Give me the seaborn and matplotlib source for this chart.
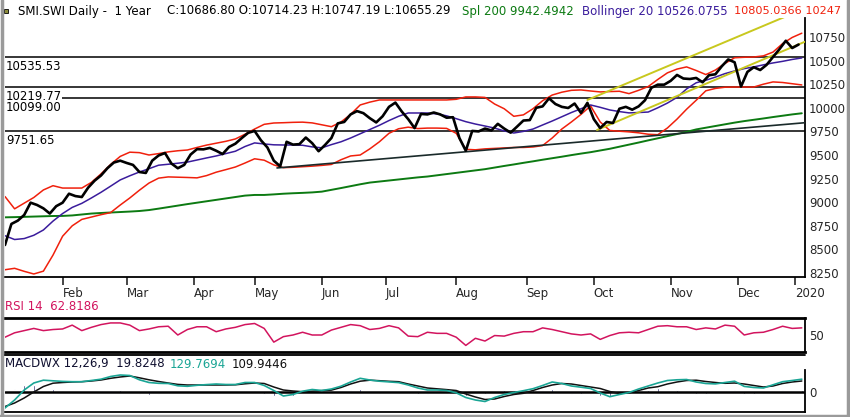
import numpy as np
import matplotlib
matplotlib.use("Agg")
import matplotlib.pyplot as plt
from matplotlib.lines import Line2D
from matplotlib.patches import Rectangle
import seaborn as sns

# DATA (x = trading day index, 0 = 8 Jan 2019)
price = [8547, 8770, 8805, 8865, 8995, 8971, 8935, 8880, 8958, 8995,
         9090, 9065, 9055, 9155, 9228, 9283, 9360, 9420, 9440, 9416,
         9395, 9320, 9310, 9440, 9495, 9521, 9410, 9360, 9395, 9505,
         9562, 9560, 9575, 9545, 9510, 9585, 9620, 9680, 9735, 9755,
         9655, 9580, 9440, 9380, 9640, 9610, 9615, 9685, 9625, 9540,
         9606, 9680, 9835, 9850, 9930, 9965, 9943, 9890, 9845, 9910,
         10010, 10055, 9960, 9880, 9785, 9935, 9930, 9950, 9930, 9895,
         9900, 9680, 9545, 9755, 9750, 9780, 9760, 9830, 9780, 9737,
         9800, 9865, 9870, 10000, 10015, 10100, 10040, 10010, 9998, 10045,
         9945, 10052, 9880, 9785, 9850, 9839, 9990, 10010, 9980, 10015,
         10080, 10212, 10245, 10245, 10285, 10348, 10310, 10305, 10316, 10270,
         10345, 10355, 10440, 10512, 10482, 10225, 10380, 10430, 10400, 10455,
         10538, 10620, 10710, 10633, 10670]

boll_upper = [9060, 8930, 8990, 9050, 9130, 9175, 9150, 9150, 9150, 9210,
              9300, 9400, 9485, 9530, 9525, 9500, 9515, 9533, 9545, 9553,
              9580, 9605, 9625, 9645, 9670, 9720, 9775, 9825, 9839, 9842,
              9846, 9848, 9840, 9820, 9800, 9850, 9930, 10030, 10060, 10083,
              10083, 10083, 10083, 10083, 10083, 10083, 10083, 10090, 10115, 10115,
              10110, 10040, 9990, 9910, 9925, 9990, 10075, 10135, 10165, 10185,
              10189, 10178, 10168, 10172, 10175, 10150, 10185, 10225, 10300, 10370,
              10410, 10433, 10395, 10352, 10400, 10470, 10530, 10535, 10538, 10550,
              10590, 10680, 10745, 10790]
boll_lower = [8285, 8300, 8268, 8240, 8270, 8440, 8640, 8750, 8818, 8843,
              8868, 8890, 8970, 9045, 9127, 9203, 9255, 9268, 9265, 9262,
              9258, 9282, 9318, 9345, 9373, 9415, 9460, 9445, 9395, 9366,
              9370, 9376, 9382, 9390, 9400, 9450, 9490, 9500, 9565, 9640,
              9730, 9778, 9795, 9780, 9785, 9785, 9782, 9730, 9560, 9555,
              9565, 9570, 9575, 9580, 9580, 9585, 9600, 9680, 9775, 9850,
              9930, 10020, 9850, 9760, 9752, 9745, 9735, 9720, 9715, 9786,
              9880, 9985, 10080, 10180, 10205, 10218, 10220, 10220, 10220, 10250,
              10274, 10268, 10255, 10242]
boll_mid = [8645, 8605, 8615, 8650, 8706, 8800, 8880, 8945, 8988, 9045,
            9105, 9170, 9236, 9280, 9320, 9355, 9392, 9402, 9413, 9425,
            9447, 9469, 9490, 9515, 9540, 9590, 9628, 9617, 9608, 9606,
            9606, 9603, 9586, 9576, 9610, 9640, 9680, 9725, 9770, 9815,
            9865, 9910, 9945, 9945, 9945, 9935, 9915, 9885, 9853, 9828,
            9807, 9785, 9755, 9733, 9750, 9775, 9818, 9860, 9905, 9950,
            9990, 10030, 10005, 9977, 9960, 9946, 9950, 9955, 10000, 10050,
            10110, 10200, 10265, 10292, 10325, 10362, 10390, 10415, 10433, 10455,
            10475, 10492, 10512, 10528]
spl_200 = [8840, 8842, 8845, 8848, 8851, 8854, 8855, 8860, 8870, 8880,
           8886, 8891, 8896, 8901, 8907, 8917, 8932, 8948, 8964, 8980,
           8995, 9010, 9025, 9040, 9055, 9070, 9077, 9077, 9083, 9090,
           9095, 9099, 9104, 9112, 9131, 9150, 9170, 9190, 9208, 9219,
           9230, 9241, 9252, 9263, 9272, 9285, 9298, 9311, 9324, 9337,
           9350, 9367, 9384, 9400, 9417, 9433, 9450, 9466, 9482, 9499,
           9515, 9530, 9548, 9566, 9588, 9610, 9632, 9655, 9677, 9700,
           9722, 9745, 9771, 9789, 9807, 9825, 9843, 9859, 9873, 9887,
           9902, 9916, 9930, 9942]

rsi = [46, 54, 58, 62, 58, 60, 61, 68, 58, 64,
       69, 72, 72, 68, 58, 61, 65, 66, 50, 60,
       65, 65, 56, 61, 64, 69, 71, 62, 37, 47,
       50, 55, 50, 50, 59, 64, 69, 67, 60, 62,
       67, 63, 48, 47, 55, 53, 53, 46, 31, 44,
       39, 49, 48, 53, 56, 56, 63, 60, 56, 52,
       50, 52, 42, 49, 54, 55, 54, 60, 66, 67,
       65, 65, 60, 63, 61, 68, 66, 50, 54, 55,
       60, 66, 62, 63]

macd = [-160, -80, 20, 90, 118, 112, 106, 103, 103, 115,
        128, 155, 170, 165, 122, 95, 87, 85, 62, 57,
        67, 74, 80, 75, 75, 95, 95, 65, 15, -40,
        -25, 8, 25, 15, 30, 58, 100, 137, 120, 108,
        101, 94, 70, 40, 20, 20, 15, -8, -55, -80,
        -95, -55, -25, -5, 13, 33, 65, 100, 85, 60,
        48, 35, -10, -47, -25, -5, 30, 60, 90, 115,
        122, 125, 100, 85, 81, 95, 108, 56, 45, 40,
        72, 103, 115, 128]
macd_signal = [-145, -110, -60, 0, 55, 88, 95, 100, 103, 110,
               120, 137, 150, 160, 142, 122, 105, 90, 76, 70,
               70, 70, 70, 70, 72, 82, 90, 85, 50, 20,
               10, 3, 8, 14, 19, 45, 80, 108, 118, 113,
               107, 103, 80, 60, 40, 32, 24, 15, -20, -50,
               -75, -70, -45, -25, -13, 15, 45, 70, 85, 80,
               65, 50, 35, 5, -15, -8, 15, 40, 53, 80,
               100, 115, 118, 105, 95, 87, 90, 80, 65, 50,
               60, 85, 100, 110]
macd_hist = [10, 35, 70, 70, 55, 30, 12, 5, 0, 5,
             8, 15, 18, 8, -18, -25, -18, -5, -12, -12,
             -3, 4, 8, 5, 3, 12, 6, -18, -35, -55,
             -35, 5, 15, 2, 10, 13, 20, 28, 2, -5,
             -6, -9, -10, -20, -20, -12, -9, -20, -35, -30,
             -20, 12, 20, 20, 25, 18, 20, 30, 0, -20,
             -17, -15, -40, -45, -15, 0, 12, 20, 37, 35,
             22, 10, -18, -20, -14, 8, 18, -24, -20, -10,
             12, 18, 15, 20]

levels = [10535.53, 10219.77, 10099.00, 9751.65]
level_labels = ["10535.53", "10219.77", "10099.00", "9751.65"]

# trendlines: (start day, start value, end day, end value)
support_line = (85, 9363, 250, 9842)
channel_low = (185, 9765, 250, 10700)
channel_high = (182, 10083, 250, 11053)

month_days = [18, 38, 59, 78, 99, 119, 141, 163, 184, 208, 229, 247]
month_labels = ["Feb", "Mar", "Apr", "May", "Jun", "Jul", "Aug", "Sep", "Oct", "Nov", "Dec", "2020"]
price_ticks = [8250, 8500, 8750, 9000, 9250, 9500, 9750, 10000, 10250, 10500, 10750]

price_day = np.arange(0, 250, 2)
ind_day = np.arange(0, 250, 3)

sns.set_style("white")
plt.rcParams["font.family"] = ["DejaVu Sans"]
FS = 8.5

W, H = 850, 417
fig = plt.figure(figsize=(W / 100, H / 100), dpi=100)
ax = fig.add_axes([5 / W, 1 - 277 / H, 800 / W, 259 / H])
rsi_ax = fig.add_axes([5 / W, 1 - 352 / H, 800 / W, 34 / H])
macd_ax = fig.add_axes([5 / W, 1 - 412 / H, 800 / W, 42 / H])

# main price panel
for lv, lb in zip(levels, level_labels):
    ax.axhline(lv, color="black", lw=1.1, zorder=2)
    ax.annotate(lb, xy=(0.001, lv), xycoords=("axes fraction", "data"),
                xytext=(0, -2), textcoords="offset points", va="top", ha="left",
                fontsize=FS, color="black", zorder=6,
                bbox=dict(facecolor="white", edgecolor="none", pad=0.3))

sns.lineplot(x=ind_day, y=spl_200, ax=ax, color="#0c7a12", lw=1.4, legend=False)
sns.lineplot(x=ind_day, y=boll_upper, ax=ax, color="#f0200c", lw=1.1, legend=False)
sns.lineplot(x=ind_day, y=boll_lower, ax=ax, color="#f0200c", lw=1.1, legend=False)
sns.lineplot(x=ind_day, y=boll_mid, ax=ax, color="#3a1c9c", lw=1.1, legend=False)

for d0, v0, d1, v1 in [support_line]:
    ax.plot([d0, d1], [v0, v1], color="#1a2a2a", lw=1.2, zorder=3)
for d0, v0, d1, v1 in [channel_low, channel_high]:
    ax.plot([d0, d1], [v0, v1], color="#c8c81e", lw=1.4, zorder=3)

sns.lineplot(x=price_day, y=price, ax=ax, color="black", lw=1.9, legend=False, zorder=4)

ax.set_xlim(0, 250)
ax.set_ylim(8208, 10951)
ax.yaxis.tick_right()
ax.set_yticks(price_ticks)
ax.set_yticklabels([str(t) for t in price_ticks])
ax.set_xticks(month_days)
ax.set_xticklabels(month_labels)
for lbl in ax.get_xticklabels():
    lbl.set_ha("left")
ax.tick_params(axis="x", direction="out", length=6, width=1.2, pad=1, labelsize=FS, bottom=True)
ax.tick_params(axis="y", length=0, pad=3, labelsize=FS)
ax.set_xlabel("")
ax.set_ylabel("")
ax.spines["left"].set_visible(False)
ax.spines["top"].set_visible(False)
for s in ["right", "bottom"]:
    ax.spines[s].set_color("black")
    ax.spines[s].set_linewidth(1.3)

# RSI panel
sns.lineplot(x=ind_day, y=rsi, ax=rsi_ax, color="#d2145e", lw=1.1, legend=False)
rsi_ax.set_xlim(0, 250)
rsi_ax.set_ylim(19, 81)
rsi_ax.yaxis.tick_right()
rsi_ax.set_yticks([50])
rsi_ax.set_xticks([])
rsi_ax.tick_params(axis="y", length=0, pad=3, labelsize=FS)
rsi_ax.spines["left"].set_visible(False)
for s, w in [("top", 2.0), ("bottom", 2.0), ("right", 1.3)]:
    rsi_ax.spines[s].set_color("black")
    rsi_ax.spines[s].set_linewidth(w)

# MACD panel
macd_ax.bar(ind_day, macd_hist, width=0.5, color="#1e1e6a", zorder=2)
macd_ax.axhline(0, color="black", lw=1.8, zorder=3)
sns.lineplot(x=ind_day, y=macd_signal, ax=macd_ax, color="#111111", lw=1.1, legend=False, zorder=4)
sns.lineplot(x=ind_day, y=macd, ax=macd_ax, color="#1aa595", lw=1.2, legend=False, zorder=4)
macd_ax.set_xlim(0, 250)
macd_ax.set_ylim(-200, 220)
macd_ax.yaxis.tick_right()
macd_ax.set_yticks([0])
macd_ax.set_xticks([])
macd_ax.tick_params(axis="y", length=0, pad=3, labelsize=FS)
macd_ax.spines["left"].set_visible(False)
macd_ax.spines["top"].set_visible(False)
for s in ["right", "bottom"]:
    macd_ax.spines[s].set_color("black")
    macd_ax.spines[s].set_linewidth(1.3)

# header texts
def fig_text(px, py, s, color, size=FS):
    fig.text(px / W, 1 - py / H, s, color=color, fontsize=size, ha="left", va="center")

fig_text(18, 11, "SMI.SWI Daily -  1 Year", "black")
fig_text(167, 11, "C:10686.80 O:10714.23 H:10747.19 L:10655.29", "black")
fig_text(462, 11, "Spl 200 9942.4942", "#0c7a12")
fig_text(582, 11, "Bollinger 20 10526.0755", "#3a1c9c")
fig_text(734, 11, "10805.0366 10247", "#f0200c", size=8.1)
fig_text(5, 307, "RSI 14  62.8186", "#d2145e")
fig_text(5, 364, "MACDWX 12,26,9  19.8248", "#101030")
fig_text(170, 364, "129.7694", "#1aa595")
fig_text(232, 364, "109.9446", "#111111")

fig.add_artist(Rectangle((4 / W, 1 - 13 / H), 4 / W, 4 / H, transform=fig.transFigure,
                         facecolor="#8c8c3c", edgecolor="black", lw=0.6))
fig.add_artist(Line2D([3 / W, 805 / W], [1 - 355 / H] * 2, color="black", lw=1.3))
# window frame
fig.add_artist(Line2D([2 / W, 2 / W], [0, 1], color="#9a9a9a", lw=2.5))
fig.add_artist(Line2D([848 / W, 848 / W], [0, 1], color="#9a9a9a", lw=2.5))
fig.add_artist(Line2D([0, 1], [1.5 / H, 1.5 / H], color="#9a9a9a", lw=2.5))

fig.savefig("out.png", dpi=100)
